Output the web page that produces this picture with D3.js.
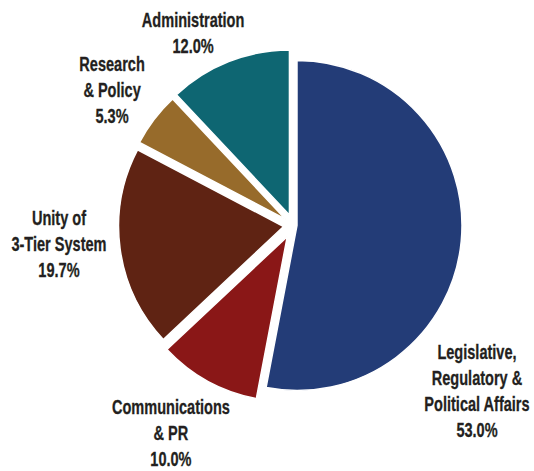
<!DOCTYPE html>
<html>
<head>
<meta charset="utf-8">
<script src="https://cdn.jsdelivr.net/npm/d3@7"></script>
<style>
  html, body { margin: 0; padding: 0; background: #fff; }
  svg text {
    font-family: "Liberation Sans Narrow", "Arial Narrow", "Liberation Sans", Arial, sans-serif;
    font-stretch: condensed;
    font-weight: bold;
    fill: #231f20;
    stroke: #231f20;
    stroke-width: 0.3px;
  }
</style>
</head>
<body>
<svg id="chart"></svg>
<script>
// slices, clockwise from 12 o'clock
const categories = [
  ["Legislative,", "Regulatory &", "Political Affairs"],
  ["Communications", "& PR"],
  ["Unity of", "3-Tier System"],
  ["Research", "& Policy"],
  ["Administration"]
];
const values = [53.0, 10.0, 19.7, 5.3, 12.0];
const colors = ["#233c77", "#8a1717", "#5f2313", "#976b2b", "#0e6672"];

const width = 534, height = 471;
const cx = 293.5, cy = 225.2, radius = 165;

// how far each slice is pulled out from the centre
const explode = [3.5, 13, 10, 10, 11];
// label block centre, in polar form (degrees clockwise from top, distance)
const labelAngle = [132.1, 210.5, 265.4, 306.7, 332.4];
const labelDist = [247.3, 241.5, 235.3, 226.3, 216.7];
const lineHeight = 25.8;
// the labels use a tall condensed face; squeeze the local font to that width
const widthOfCommunications = 118;

const svg = d3.select("#chart")
  .attr("width", width)
  .attr("height", height);

const g = svg.append("g")
  .attr("transform", `translate(${cx},${cy})`);

const pie = d3.pie().sort(null).value((d) => d);
const arc = d3.arc().innerRadius(0).outerRadius(radius);

const arcs = pie(values);

g.selectAll("path")
  .data(arcs)
  .enter()
  .append("path")
  .attr("d", arc)
  .attr("fill", (d, i) => colors[i])
  .attr("stroke", "#fff")
  .attr("stroke-width", 1.5)
  .attr("transform", (d, i) => {
    const mid = (d.startAngle + d.endAngle) / 2;
    return `translate(${Math.sin(mid) * explode[i]},${-Math.cos(mid) * explode[i]})`;
  });

const labels = g.selectAll("g.label")
  .data(arcs)
  .enter()
  .append("g")
  .attr("class", "label");

labels.each(function (d, i) {
  const lines = categories[i].concat([d3.format(".1f")(values[i]) + "%"]);
  const top = -(lines.length - 1) * lineHeight / 2;
  d3.select(this).selectAll("text")
    .data(lines)
    .enter()
    .append("text")
    .attr("text-anchor", "middle")
    .attr("dominant-baseline", "central")
    .attr("y", (t, j) => top + j * lineHeight)
    .style("font-size", "20px")
    .text((t) => t);
});

// measure once and squeeze every label by the same factor
const probe = labels.filter((d, i) => i === 1).select("text").node();
const sx = Math.min(1, widthOfCommunications / probe.getComputedTextLength());

labels.attr("transform", (d, i) => {
  const a = labelAngle[i] * Math.PI / 180;
  return `translate(${Math.sin(a) * labelDist[i]},${-Math.cos(a) * labelDist[i]}) scale(${sx},1)`;
});
</script>
</body>
</html>
